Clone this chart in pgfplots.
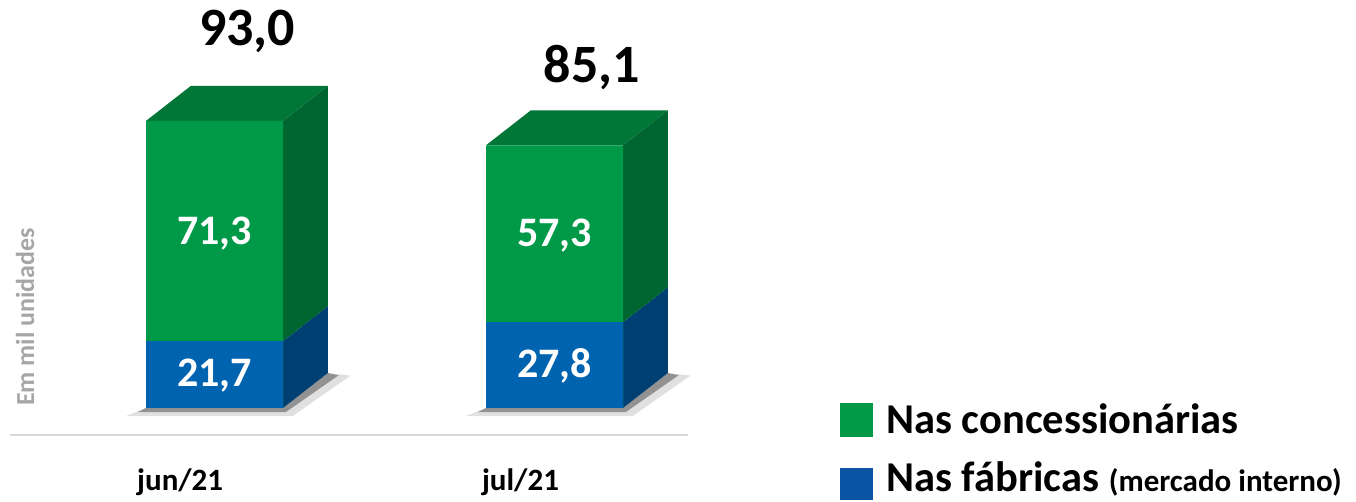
\documentclass[border=0pt]{standalone}
\usepackage{pgfplots}
\pgfplotsset{compat=1.18}
\usepackage{fontspec}
\setmainfont{Carlito}
\definecolor{greenF}{RGB}{0,153,71}
\definecolor{greenS}{RGB}{0,102,49}
\definecolor{greenT}{RGB}{0,118,55}
\definecolor{blueF}{RGB}{0,99,175}
\definecolor{blueS}{RGB}{0,63,113}
\definecolor{legG}{RGB}{0,153,71}
\definecolor{legB}{RGB}{11,84,163}
\definecolor{axgray}{RGB}{217,217,217}
\definecolor{labgray}{RGB}{166,166,166}
\begin{document}
\begin{tikzpicture}
\path[use as bounding box] (0pt,0pt) rectangle (1356pt,501pt);
\begin{axis}[
  at={(10pt,66pt)}, anchor=south west,
  scale only axis, width=678pt, height=435pt,
  xmin=-0.6015, xmax=1.3926, ymin=-8.75, ymax=132.17,
  clip=false,
  axis x line=bottom, axis y line=none,
  x axis line style={draw=axgray, line width=2pt, -},
  xtick={-0.101,0.9}, xticklabels={jun/21, jul/21},
  major tick length=0pt,
  xticklabel style={anchor=base, yshift=-55pt, font=\fontsize{31}{36}\selectfont\bfseries},
  ytick=\empty,
]
% shadows
\addplot[fill=black, fill opacity=0.12, draw=none] coordinates {(-0.26,-2.6) (0.23,-2.6) (0.40,10.5) (0.3335,11.34) (0.2015,0) (-0.2015,0)};
\addplot[fill=black, fill opacity=0.35, draw=none] coordinates {(-0.225,-1.3) (0.21,-1.3) (0.365,10.6) (0.3335,11.34) (0.2015,0) (-0.2015,0)};
\addplot[fill=black, fill opacity=0.12, draw=none] coordinates {(0.74,-2.6) (1.23,-2.6) (1.40,10.5) (1.3335,11.34) (1.2015,0) (0.7985,0)};
\addplot[fill=black, fill opacity=0.35, draw=none] coordinates {(0.775,-1.3) (1.21,-1.3) (1.365,10.6) (1.3335,11.34) (1.2015,0) (0.7985,0)};
% side faces
\addplot[fill=blueS, draw=none] coordinates {(0.2015,0) (0.3335,11.34) (0.3335,33.04) (0.2015,21.7)};
\addplot[fill=greenS, draw=none] coordinates {(0.2015,21.7) (0.3335,33.04) (0.3335,104.34) (0.2015,93.0)};
\addplot[fill=blueS, draw=none] coordinates {(1.2015,0) (1.3335,11.34) (1.3335,39.14) (1.2015,27.8)};
\addplot[fill=greenS, draw=none] coordinates {(1.2015,27.8) (1.3335,39.14) (1.3335,96.44) (1.2015,85.1)};
% top faces
\addplot[fill=greenT, draw=none] coordinates {(-0.2015,93.0) (0.2015,93.0) (0.3335,104.34) (-0.0695,104.34)};
\addplot[fill=greenT, draw=none] coordinates {(0.7985,85.1) (1.2015,85.1) (1.3335,96.44) (0.9305,96.44)};
% front faces
\addplot[ybar, bar width=0.403, bar shift=0, fill=greenF, draw=none] coordinates {(0,93.0) (1,85.1)};
\addplot[ybar, bar width=0.403, bar shift=0, fill=blueF, draw=none] coordinates {(0,21.7) (1,27.8)};
% value labels
\node[white, font=\fontsize{42}{48}\selectfont\bfseries, inner sep=0pt] at (axis cs:0,56.6) {71,3};
\node[white, font=\fontsize{42}{48}\selectfont\bfseries, inner sep=0pt] at (axis cs:0,10.6) {21,7};
\node[white, font=\fontsize{42}{48}\selectfont\bfseries, inner sep=0pt] at (axis cs:1,55.9) {57,3};
\node[white, font=\fontsize{42}{48}\selectfont\bfseries, inner sep=0pt] at (axis cs:1,13.5) {27,8};
\node[black, font=\fontsize{54}{60}\selectfont\bfseries, inner sep=0pt] at (axis cs:0.096,122.0) {93,0};
\node[black, font=\fontsize{54}{60}\selectfont\bfseries, inner sep=0pt] at (axis cs:1.110,110.4) {85,1};
\node[labgray, rotate=90, font=\fontsize{26}{30}\selectfont\bfseries, inner sep=0pt] at (axis cs:-0.557,29.5) {Em mil unidades};
\end{axis}
% legend
\fill[legG] (840pt,64pt) rectangle (873pt,98pt);
\node[anchor=base west, inner sep=0pt, font=\fontsize{42.5}{48}\selectfont\bfseries] at (886pt,68pt) {Nas concessionárias};
\fill[legB] (840pt,1pt) rectangle (873pt,33pt);
\node[anchor=base west, inner sep=0pt, font=\fontsize{42.5}{48}\selectfont\bfseries] at (886pt,10pt) {Nas fábricas {\fontsize{31}{34}\selectfont(mercado interno)}};
\end{tikzpicture}
\end{document}
